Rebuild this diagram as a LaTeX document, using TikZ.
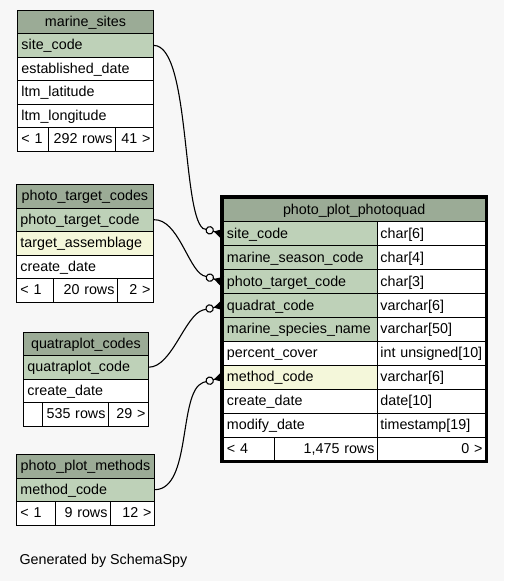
\documentclass[tikz,border=0pt]{standalone}
\usepackage{fontspec}
\setmainfont{Liberation Sans}
\usetikzlibrary{arrows.meta}
\definecolor{bgc}{HTML}{F7F7F7}
\definecolor{headc}{HTML}{9BAB96}
\definecolor{keyc}{HTML}{BED1B8}
\definecolor{idxc}{HTML}{F4F7DA}
\newcommand{\tabfont}{\fontsize{14.3}{16}\selectfont}
\begin{document}
\begin{tikzpicture}[x=1pt, y=-1pt,
    cell/.style={draw, line width=0.9pt, anchor=north west, fill=white,
      font=\tabfont, inner xsep=4pt, inner ysep=0pt, text height=11.5pt,
      text depth=2.5pt, minimum height=23.5pt, align=left},
    head/.style={cell, fill=headc, align=center},
    key/.style={cell, fill=keyc},
    idx/.style={cell, fill=idxc},
    num/.style={cell, align=right, inner xsep=3pt},
    mrow/.style={minimum height=23.9pt},
    link/.style={line width=1.1pt,
      -{Circle[fill=bgc, length=8.5pt, width=8.5pt] Triangle[reversed, length=9pt, width=10pt]}}]
      % background
      \fill [bgc] (0,0) rectangle (504,581);
      % marine_sites
      \node [head, text width=128pt] (ms-head) at (17,9.7) {marine\_sites};
      \node [key, text width=128pt] (ms-site) at (17,33.2) {site\_code};
      \node [cell, text width=128pt] (ms-est) at (17,56.7) {established\_date};
      \node [cell, text width=128pt] (ms-lat) at (17,80.2) {ltm\_latitude};
      \node [cell, text width=128pt] (ms-lon) at (17,103.7) {ltm\_longitude};
      \node [cell, text width=23pt] (ms-prev) at (17,127.2) {< 1};
      \node [num, text width=61pt] (ms-rows) at (48,127.2) {292 rows};
      \node [num, text width=32pt] (ms-next) at (115,127.2) {41 >};
      % photo_target_codes
      \node [head, text width=129pt] (ptc-head) at (16,184) {photo\_target\_codes};
      \node [key, text width=129pt] (ptc-code) at (16,207.5) {photo\_target\_code};
      \node [idx, text width=129pt] (ptc-assem) at (16,231) {target\_assemblage};
      \node [cell, text width=129pt] (ptc-date) at (16,254.5) {create\_date};
      \node [cell, text width=29pt] (ptc-prev) at (16,278) {< 1};
      \node [num, text width=58pt] (ptc-rows) at (53,278) {20 rows};
      \node [num, text width=30pt] (ptc-next) at (117,278) {2 >};
      % quatraplot_codes
      \node [head, text width=117pt] (qc-head) at (23,331.5) {quatraplot\_codes};
      \node [key, text width=117pt] (qc-code) at (23,355) {quatraplot\_code};
      \node [cell, text width=117pt] (qc-date) at (23,378.5) {create\_date};
      \node [cell, text width=11pt] (qc-prev) at (23,402) {};
      \node [num, text width=60pt] (qc-rows) at (42,402) {535 rows};
      \node [num, text width=34pt] (qc-next) at (108,402) {29 >};
      % photo_plot_methods
      \node [head, text width=130pt] (ppm-head) at (16,454) {photo\_plot\_methods};
      \node [key, text width=130pt] (ppm-code) at (16,477.5) {method\_code};
      \node [cell, text width=31pt] (ppm-prev) at (16,501) {< 1};
      \node [num, text width=49pt] (ppm-rows) at (55,501) {9 rows};
      \node [num, text width=38pt] (ppm-next) at (110,501) {12 >};
      % photo_plot_photoquad
      \node [head, mrow, text width=254.5pt] (pq-head) at (222.5,197.5) {photo\_plot\_photoquad};
      \node [key, mrow, text width=146.5pt] (pq-site) at (222.5,221.4) {site\_code};
      \node [key, mrow, text width=146.5pt] (pq-season) at (222.5,245.3) {marine\_season\_code};
      \node [key, mrow, text width=146.5pt] (pq-ptc) at (222.5,269.2) {photo\_target\_code};
      \node [key, mrow, text width=146.5pt] (pq-quad) at (222.5,293.1) {quadrat\_code};
      \node [key, mrow, text width=146.5pt] (pq-species) at (222.5,317) {marine\_species\_name};
      \node [cell, mrow, text width=146.5pt] (pq-cover) at (222.5,340.9) {percent\_cover};
      \node [idx, mrow, text width=146.5pt] (pq-method) at (222.5,364.8) {method\_code};
      \node [cell, mrow, text width=146.5pt] (pq-create) at (222.5,388.7) {create\_date};
      \node [cell, mrow, text width=146.5pt] (pq-modify) at (222.5,412.6) {modify\_date};
      \node [cell, mrow, inner xsep=3pt, text width=102pt] (pq-site-t) at (377,221.4) {char[6]};
      \node [cell, mrow, inner xsep=3pt, text width=102pt] (pq-season-t) at (377,245.3) {char[4]};
      \node [cell, mrow, inner xsep=3pt, text width=102pt] (pq-ptc-t) at (377,269.2) {char[3]};
      \node [cell, mrow, inner xsep=3pt, text width=102pt] (pq-quad-t) at (377,293.1) {varchar[6]};
      \node [cell, mrow, inner xsep=3pt, text width=102pt] (pq-species-t) at (377,317) {varchar[50]};
      \node [cell, mrow, inner xsep=3pt, text width=102pt] (pq-cover-t) at (377,340.9) {int unsigned[10]};
      \node [cell, mrow, inner xsep=3pt, text width=102pt] (pq-method-t) at (377,364.8) {varchar[6]};
      \node [cell, mrow, inner xsep=3pt, text width=102pt] (pq-create-t) at (377,388.7) {date[10]};
      \node [cell, mrow, inner xsep=3pt, text width=102pt] (pq-modify-t) at (377,412.6) {timestamp[19]};
      \node [cell, mrow, text width=43.5pt] (pq-prev) at (222.5,436.5) {< 4};
      \node [num, mrow, text width=97pt] (pq-rows) at (274,436.5) {1,475 rows};
      \node [num, mrow, text width=102pt] (pq-next) at (377,436.5) {0 >};
      \draw [line width=3pt] (221,196) rectangle (486.5,461.9);
      % relations
      \draw [link] (ms-site.east) .. controls (190,46) and (182,212) .. (203,228.5) -- (pq-site.west);
      \draw [link] (ptc-code.east) .. controls (178,219) and (188,268) .. (203,275.5) -- (pq-ptc.west);
      \draw [link] (qc-code.east) .. controls (172,367) and (185,315) .. (203,310) -- (pq-quad.west);
      \draw [link] (ppm-code.east) .. controls (192,489) and (178,392) .. (203,382.5) -- (pq-method.west);
      % footer
      \node [anchor=west, font=\tabfont] (gen) at (16,561) {Generated by SchemaSpy};
\end{tikzpicture}
\end{document}
